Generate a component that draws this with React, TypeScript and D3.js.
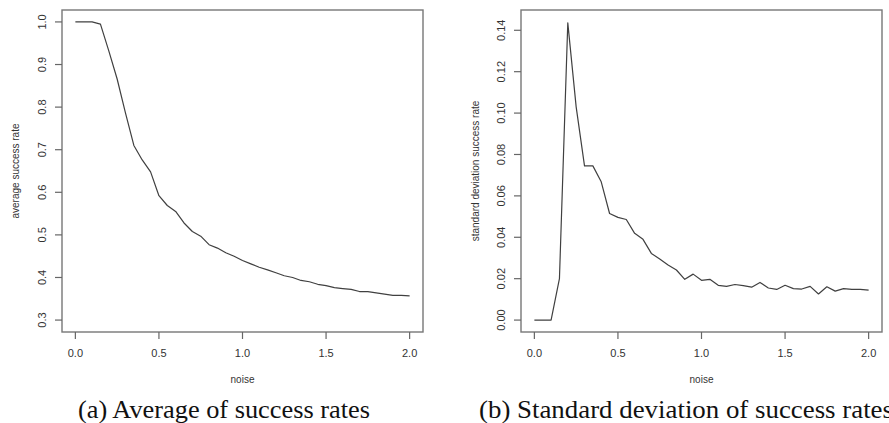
import React, { useEffect, useRef } from 'react';
import * as d3 from 'd3';

const noiseLevels = [
  0.0, 0.05, 0.1, 0.15, 0.2, 0.25, 0.3, 0.35, 0.4, 0.45,
  0.5, 0.55, 0.6, 0.65, 0.7, 0.75, 0.8, 0.85, 0.9, 0.95,
  1.0, 1.05, 1.1, 1.15, 1.2, 1.25, 1.3, 1.35, 1.4, 1.45,
  1.5, 1.55, 1.6, 1.65, 1.7, 1.75, 1.8, 1.85, 1.9, 1.95, 2.0,
];

const avgSuccess = [
  1.0, 1.0, 1.0, 0.995, 0.932, 0.866, 0.786, 0.71, 0.676, 0.648,
  0.592, 0.569, 0.555, 0.528, 0.508, 0.497, 0.477, 0.469, 0.458, 0.45,
  0.44, 0.432, 0.424, 0.418, 0.411, 0.404, 0.4, 0.393, 0.39, 0.384,
  0.381, 0.376, 0.374, 0.372, 0.367, 0.367, 0.364, 0.361, 0.358, 0.358, 0.357,
];

const sdSuccess = [
  0.0, 0.0, 0.0, 0.02, 0.1436, 0.103, 0.0745, 0.0745, 0.0668, 0.0515,
  0.0496, 0.0486, 0.0419, 0.039, 0.0322, 0.0295, 0.0266, 0.0242, 0.0197, 0.0222,
  0.0192, 0.0197, 0.0168, 0.0163, 0.0172, 0.0166, 0.0159, 0.0182, 0.0155, 0.0148,
  0.0168, 0.0152, 0.015, 0.0163, 0.0126, 0.0161, 0.014, 0.0152, 0.0148, 0.0148, 0.0145,
];

const xTicks = [0, 0.5, 1.0, 1.5, 2.0];
const avgTicks = [0.3, 0.4, 0.5, 0.6, 0.7, 0.8, 0.9, 1.0];
const sdTicks = [0.0, 0.02, 0.04, 0.06, 0.08, 0.1, 0.12, 0.14];

const W = 889;
const H = 423;

interface PanelSpec {
  left: number;
  right: number;
  values: number[];
  yDomain: [number, number];
  yTicks: number[];
  yFormat: (d: number) => string;
  yLabel: string;
  yLabelX: number;
  caption: string;
  captionX: number;
  captionLen: number;
}

const panels: PanelSpec[] = [
  {
    left: 62, right: 423,
    values: avgSuccess,
    yDomain: [0.272, 1.028],
    yTicks: avgTicks,
    yFormat: d3.format('.1f'),
    yLabel: 'average success rate',
    yLabelX: 15,
    caption: '(a) Average of success rates',
    captionX: 78,
    captionLen: 292,
  },
  {
    left: 521, right: 882,
    values: sdSuccess,
    yDomain: [-0.00576, 0.1498],
    yTicks: sdTicks,
    yFormat: d3.format('.2f'),
    yLabel: 'standard deviation success rate',
    yLabelX: 475,
    caption: '(b) Standard deviation of success rates',
    captionX: 479,
    captionLen: 414,
  },
];

const App: React.FC = () => {
  const svgRef = useRef<SVGSVGElement>(null);

  useEffect(() => {
    if (!svgRef.current) return;
    const svg = d3.select(svgRef.current);
    svg.selectAll('*').remove();

    const top = 10;
    const bottom = 332;
    const sans = 'Liberation Sans, Arial, Helvetica, sans-serif';

    panels.forEach(p => {
      const x = d3.scaleLinear().domain([-0.08, 2.08]).range([p.left, p.right]);
      const y = d3.scaleLinear().domain(p.yDomain).range([bottom, top]);
      const g = svg.append('g');

      // data line
      const line = d3.line<number>()
        .x((_, i) => x(noiseLevels[i]))
        .y(d => y(d));
      g.append('path')
        .datum(p.values)
        .attr('d', line)
        .attr('fill', 'none')
        .attr('stroke', '#404040')
        .attr('stroke-width', 1.2)
        .attr('stroke-linejoin', 'round');

      // box
      g.append('rect')
        .attr('x', p.left)
        .attr('y', top)
        .attr('width', p.right - p.left)
        .attr('height', bottom - top)
        .attr('fill', 'none')
        .attr('stroke', '#777')
        .attr('stroke-width', 1.4);

      // x axis
      xTicks.forEach(t => {
        g.append('line')
          .attr('x1', x(t)).attr('x2', x(t))
          .attr('y1', bottom).attr('y2', bottom + 7)
          .attr('stroke', '#666').attr('stroke-width', 1.2);
        g.append('text')
          .attr('x', x(t)).attr('y', bottom + 25)
          .attr('text-anchor', 'middle')
          .style('font-family', sans)
          .style('font-size', '11px')
          .attr('fill', '#333')
          .text(d3.format('.1f')(t));
      });

      // y axis
      p.yTicks.forEach(t => {
        g.append('line')
          .attr('x1', p.left - 7).attr('x2', p.left)
          .attr('y1', y(t)).attr('y2', y(t))
          .attr('stroke', '#666').attr('stroke-width', 1.2);
        g.append('text')
          .attr('transform', `translate(${p.left - 20},${y(t)}) rotate(-90)`)
          .attr('text-anchor', 'middle')
          .attr('dy', '0.35em')
          .style('font-family', sans)
          .style('font-size', '11px')
          .attr('fill', '#333')
          .text(p.yFormat(t));
      });

      // axis titles
      g.append('text')
        .attr('x', (p.left + p.right) / 2).attr('y', 383)
        .attr('text-anchor', 'middle')
        .style('font-family', sans)
        .style('font-size', '10px')
        .attr('fill', '#333')
        .text('noise');
      g.append('text')
        .attr('transform', `translate(${p.yLabelX},${(top + bottom) / 2}) rotate(-90)`)
        .attr('text-anchor', 'middle')
        .attr('dy', '0.35em')
        .style('font-family', sans)
        .style('font-size', '10px')
        .attr('fill', '#333')
        .text(p.yLabel);

      // caption
      g.append('text')
        .attr('x', p.captionX).attr('y', 418)
        .attr('text-anchor', 'start')
        .attr('textLength', p.captionLen)
        .attr('lengthAdjust', 'spacingAndGlyphs')
        .style('font-family', 'Liberation Serif, Times New Roman, serif')
        .style('font-size', '25px')
        .attr('fill', '#111')
        .text(p.caption);
    });
  }, []);

  return (
    <svg
      ref={svgRef}
      width={W}
      height={H}
      style={{ position: 'absolute', left: 0, top: 0, background: '#fff' }}
    />
  );
};

export default App;
